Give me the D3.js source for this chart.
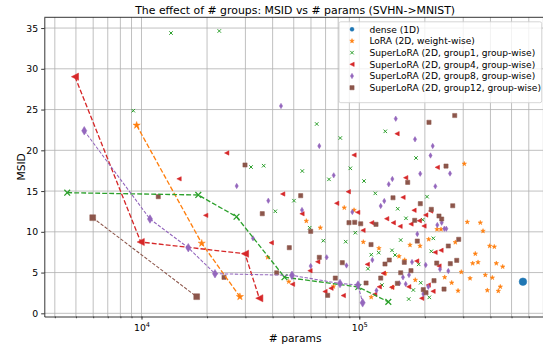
<!DOCTYPE html>
<html>
<head>
<meta charset="utf-8">
<script src="https://cdn.jsdelivr.net/npm/d3@7"></script>
<style>
  body { margin: 0; background: #fff; }
  svg { display: block; }
  text { font-family: "DejaVu Sans", sans-serif; fill: #000; }
</style>
</head>
<body>
<svg id="chart" width="543" height="348"></svg>
<script>
// ---- data: [number of params, MSID] ----
const densePoints = [[564000, 3.88]];

const loraPoints = [
  [85300, 12.96], [94600, 12.67], [57100, 11.33], [66200, 10.50], [104300, 8.75],
  [123100, 7.98], [37970, 6.87], [131600, 4.91], [47460, 3.88], [76100, 3.29],
  [113400, 1.98], [303400, 18.34], [313100, 11.20], [359400, 11.12], [227400, 10.31],
  [237200, 10.31], [369800, 10.10], [170900, 8.38], [190000, 8.26], [208300, 9.08],
  [275900, 8.71], [396900, 8.26], [416700, 8.17], [152200, 6.99], [340800, 7.31],
  [161600, 6.54], [331600, 6.13], [350800, 6.26], [425600, 6.13], [455400, 5.72],
  [293900, 5.07], [246700, 4.42], [322400, 4.29], [378800, 4.70], [408000, 4.37],
  [142300, 3.19], [180700, 4.09], [265600, 3.75], [284000, 2.77], [387000, 2.82],
  [444000, 3.26], [434700, 2.74]
];
const loraFront = [[9500, 23.07], [18900, 8.59], [28300, 2.04]];

const group1Points = [
  [9170, 24.86], [13660, 34.39], [22760, 34.64], [63740, 23.23], [81800, 21.51],
  [31830, 17.95], [36390, 18.11], [54730, 17.46], [90930, 17.79], [72580, 16.44],
  [105100, 16.23], [118400, 14.72], [50130, 13.82], [41150, 12.52], [59180, 10.50],
  [95850, 9.89], [68350, 8.91], [86610, 8.79], [122800, 7.44], [113500, 7.19],
  [109600, 5.47], [127100, 3.47], [131600, 22.33], [182100, 19.06], [204600, 14.31],
  [150100, 12.83], [163800, 11.66], [195500, 11.48], [154900, 8.99], [218700, 9.20],
  [141300, 7.73], [145900, 7.15], [214100, 7.61], [187400, 6.01], [191400, 3.75],
  [177000, 2.86], [168600, 1.75], [209600, 1.96]
];
const group1Front = [[4560, 14.80], [18230, 14.52], [27310, 11.85], [45350, 4.43], [98950, 3.23], [135900, 1.41]];

const group4Points = [
  [24620, 19.67], [14870, 16.50], [19710, 12.02], [94560, 19.42], [44490, 14.64],
  [89020, 14.92], [78740, 13.50], [98330, 12.39], [54560, 12.22], [133600, 11.61],
  [114000, 11.12], [104000, 10.18], [39450, 8.66], [64420, 6.33], [108800, 6.01],
  [59360, 5.23], [128900, 4.91], [49350, 3.57], [74140, 3.08], [140800, 3.19],
  [69580, 2.67], [84440, 2.18], [117700, 2.34], [123500, 3.25], [149000, 22.04],
  [228100, 17.91], [163300, 16.64], [158700, 14.23], [178300, 12.64], [212700, 12.55],
  [201800, 12.06], [188600, 11.36], [143200, 11.12], [153800, 10.67], [172700, 10.96],
  [198200, 10.71], [237200, 7.73], [222700, 7.48], [183400, 6.42], [232200, 5.80],
  [168600, 3.26], [207400, 3.47], [218000, 2.70], [193400, 1.84]
];
const group4Front = [[4950, 29.03], [9920, 8.75], [29870, 7.31], [34740, 1.85]];

const group8Points = [
  [27360, 15.62], [43700, 25.44], [65510, 20.53], [76300, 16.93], [136500, 15.83],
  [130200, 13.78], [125400, 13.17], [38210, 13.82], [92880, 12.43], [54560, 12.67],
  [32500, 9.20], [70840, 6.87], [114800, 6.54], [87340, 5.87], [59820, 5.80],
  [119900, 2.80], [147000, 23.88], [180200, 21.35], [217300, 20.53], [212300, 19.36],
  [260900, 17.15], [190400, 17.13], [141800, 16.48], [223400, 15.58], [228100, 10.83],
  [238900, 11.12], [245700, 10.38], [250900, 10.38], [184600, 9.73], [174600, 6.29],
  [201800, 5.93], [234700, 5.40], [256200, 5.19], [169100, 4.70], [158700, 4.42],
  [163300, 3.60], [152700, 3.68], [207400, 3.26], [196700, 2.37]
];
const group8Front = [[5460, 22.40], [10940, 11.57], [16400, 8.05], [21750, 4.86], [49090, 4.66], [81540, 3.66], [98630, 3.47], [103600, 1.29]];

const group12Points = [
  [29870, 18.20], [11940, 14.31], [23930, 4.42], [53810, 14.43], [35850, 12.22],
  [89680, 11.12], [95260, 11.17], [101500, 10.99], [119300, 10.92], [59820, 10.06],
  [113200, 8.44], [47710, 8.05], [65510, 6.87], [131200, 6.05], [83550, 6.21],
  [41760, 4.98], [125400, 4.33], [77590, 4.33], [107400, 3.72], [71590, 2.21],
  [274200, 24.27], [208900, 23.44], [250100, 18.07], [166800, 16.07], [142800, 14.18],
  [190600, 13.45], [268500, 13.20], [214100, 12.76], [232200, 11.94], [238900, 11.57],
  [179600, 11.41], [184600, 8.87], [256200, 8.26], [286000, 9.08], [137300, 6.54],
  [160900, 6.26], [226700, 6.17], [261700, 6.09], [280100, 6.50], [172700, 5.23],
  [154900, 4.98], [149500, 3.68], [220300, 4.00], [244900, 2.98], [196700, 2.90],
  [202400, 2.53]
];
const group12Front = [[5970, 11.73], [17920, 2.04]];

const seriesLabels = [
  "dense (1D)",
  "LoRA (2D, weight-wise)",
  "SuperLoRA (2D, group1, group-wise)",
  "SuperLoRA (2D, group4, group-wise)",
  "SuperLoRA (2D, group8, group-wise)",
  "SuperLoRA (2D, group12, group-wise)"
];
const yTickValues = [0, 5, 10, 15, 20, 25, 30, 35];
const xMajorTicks = [1e4, 1e5];
const titleText = "The effect of # groups: MSID vs # params (SVHN->MNIST)";
const xLabelText = "# params";
const yLabelText = "MSID";

// ---- styling ----
const series = [
  { label: seriesLabels[0], color: "#1f77b4", shape: "circle",  points: densePoints,   front: null,         size: 7.6, legendSize: 4 },
  { label: seriesLabels[1], color: "#ff7f0e", shape: "star",    points: loraPoints,    front: loraFront,    size: 4.8, frontSize: 7.6, legendSize: 4.8, lw: 1.33, dash: "4.9,2.1" },
  { label: seriesLabels[2], color: "#2ca02c", shape: "x",       points: group1Points,  front: group1Front,  size: 3.5, frontSize: 5.8, legendSize: 3.5, lw: 1.33, dash: "4.9,2.1" },
  { label: seriesLabels[3], color: "#d62728", shape: "triLeft", points: group4Points,  front: group4Front,  size: 4.4, frontSize: 7.2, legendSize: 4.4, lw: 1.33, dash: "4.9,2.1" },
  { label: seriesLabels[4], color: "#9467bd", shape: "diamond", points: group8Points,  front: group8Front,  size: 5.4, frontSize: 8.6, legendSize: 5.4, lw: 1.05, dash: "3.4,1.6" },
  { label: seriesLabels[5], color: "#8c564b", shape: "square",  points: group12Points, front: group12Front, size: 4.2, frontSize: 5.8, legendSize: 4.2, lw: 1.05, dash: "3.4,1.6" }
];

const W = 543, H = 348;
const plot = { left: 44.3, right: 546, top: 17.3, bottom: 316.5 };
const tickFs = 9.3, labelFs = 10.7, titleFs = 10.9, legendFs = 9.1;

const svg = d3.select("#chart");
svg.append("rect").attr("width", W).attr("height", H).attr("fill", "#fff");

const x = d3.scaleLog().domain([3579, 719700]).range([plot.left, plot.right]);
const y = d3.scaleLinear().domain([-0.39, 36.32]).range([plot.bottom, plot.top]);

svg.append("defs").append("clipPath").attr("id", "plotclip")
  .append("rect")
  .attr("x", plot.left).attr("y", plot.top)
  .attr("width", plot.right - plot.left).attr("height", plot.bottom - plot.top);

function markerPath(shape, s) {
  const h = s / 2;
  switch (shape) {
    case "circle": return d3.symbol(d3.symbolCircle, Math.PI * h * h)();
    case "square": return `M${-h},${-h}H${h}V${h}H${-h}Z`;
    case "triLeft": return `M${-h},0L${h},${-h}L${h},${h}Z`;
    case "diamond": { const w = 0.6 * h; return `M0,${-h}L${w},0L0,${h}L${-w},0Z`; }
    case "star": {
      const pts = [];
      for (let k = 0; k < 10; k++) {
        const a = -Math.PI / 2 + k * Math.PI / 5;
        const r = k % 2 ? h * 0.382 : h;
        pts.push([r * Math.cos(a), r * Math.sin(a)]);
      }
      return "M" + pts.map(p => p[0].toFixed(2) + "," + p[1].toFixed(2)).join("L") + "Z";
    }
    case "x": return `M${-h},${-h}L${h},${h}M${-h},${h}L${h},${-h}`;
  }
}
function styleMarker(sel, d, big) {
  if (d.shape === "x") {
    sel.attr("fill", "none").attr("stroke", d.color).attr("stroke-width", big ? 1.3 : 1.0);
  } else {
    sel.attr("fill", d.color).attr("stroke", d.color).attr("stroke-width", 0.5);
  }
}

// ---- grid (major and minor) ----
const grid = svg.append("g").attr("stroke", "#b0b0b0").attr("stroke-width", 0.8);
grid.selectAll("line.vx").data(x.ticks()).join("line")
  .attr("x1", d => x(d)).attr("x2", d => x(d))
  .attr("y1", plot.top).attr("y2", plot.bottom);
grid.selectAll("line.hy").data(yTickValues).join("line")
  .attr("x1", plot.left).attr("x2", plot.right)
  .attr("y1", d => y(d)).attr("y2", d => y(d));

// ---- scatter markers ----
const marks = svg.append("g").attr("clip-path", "url(#plotclip)");
series.forEach(s => {
  marks.append("g").selectAll("path").data(s.points).join("path")
    .attr("transform", p => `translate(${x(p[0])},${y(p[1])})`)
    .attr("d", markerPath(s.shape, s.size))
    .call(sel => styleMarker(sel, s, false));
});

// ---- dashed front lines with their markers ----
const line = d3.line().x(p => x(p[0])).y(p => y(p[1]));
series.filter(s => s.front).forEach(s => {
  marks.append("path").datum(s.front)
    .attr("d", line)
    .attr("fill", "none").attr("stroke", s.color)
    .attr("stroke-width", s.lw).attr("stroke-dasharray", s.dash);
  marks.append("g").selectAll("path").data(s.front).join("path")
    .attr("transform", p => `translate(${x(p[0])},${y(p[1])})`)
    .attr("d", markerPath(s.shape, s.frontSize))
    .call(sel => styleMarker(sel, s, true));
});

// ---- axes ----
const xMinorTicks = x.ticks().filter(v => !xMajorTicks.includes(v));
const xAxisMinor = svg.append("g").attr("transform", `translate(0,${plot.bottom})`)
  .call(d3.axisBottom(x).tickValues(xMinorTicks).tickFormat("").tickSize(1.8).tickSizeOuter(0));
xAxisMinor.select(".domain").remove();
xAxisMinor.selectAll("line").attr("stroke-width", 0.6);

const xAxis = svg.append("g").attr("transform", `translate(0,${plot.bottom})`)
  .call(d3.axisBottom(x).tickValues(xMajorTicks).tickFormat("").tickSize(3.1).tickSizeOuter(0));
xAxis.select(".domain").attr("stroke-width", 0.8);
xAxis.selectAll(".tick line").attr("stroke-width", 0.8);
xAxis.selectAll(".tick").each(function (d) {
  const t = d3.select(this).append("text")
    .attr("y", 14.2).attr("text-anchor", "middle")
    .style("font-size", tickFs + "px").attr("fill", "#000");
  t.append("tspan").text("10");
  t.append("tspan").attr("dy", -3.9).style("font-size", "6.6px").text(Math.round(Math.log10(d)));
});

const yAxis = svg.append("g").attr("transform", `translate(${plot.left},0)`)
  .call(d3.axisLeft(y).tickValues(yTickValues).tickFormat(d3.format("d")).tickSize(3.1).tickPadding(3.1).tickSizeOuter(0));
yAxis.select(".domain").attr("stroke-width", 0.8);
yAxis.selectAll(".tick line").attr("stroke-width", 0.8);
yAxis.selectAll(".tick text").style("font-size", tickFs + "px").style("font-family", "DejaVu Sans").attr("fill", "#000");

// top and right spines
svg.append("line").attr("x1", plot.left).attr("x2", plot.right)
  .attr("y1", plot.top).attr("y2", plot.top).attr("stroke", "#000").attr("stroke-width", 0.8);
svg.append("line").attr("x1", plot.right).attr("x2", plot.right)
  .attr("y1", plot.top).attr("y2", plot.bottom).attr("stroke", "#000").attr("stroke-width", 0.8);

// ---- labels ----
const cx = (plot.left + plot.right) / 2;
svg.append("text").attr("x", cx).attr("y", 14).attr("text-anchor", "middle")
  .style("font-size", titleFs + "px").text(titleText);
svg.append("text").attr("x", cx).attr("y", 341.5).attr("text-anchor", "middle")
  .style("font-size", labelFs + "px").text(xLabelText);
svg.append("text").attr("transform", `translate(24.5,${(plot.top + plot.bottom) / 2}) rotate(-90)`)
  .attr("text-anchor", "middle").style("font-size", labelFs + "px").text(yLabelText);

// ---- legend ----
const legend = svg.append("g");
legend.append("rect")
  .attr("x", 339).attr("y", 21.8).attr("width", 202.7).attr("height", 80.9)
  .attr("rx", 1.8).attr("fill", "#fff").attr("fill-opacity", 0.8)
  .attr("stroke", "#cccccc").attr("stroke-width", 0.8);
const rowY = i => 29.3 + i * 11.68;
series.forEach((s, i) => {
  legend.append("path")
    .attr("transform", `translate(352,${rowY(i)})`)
    .attr("d", markerPath(s.shape, s.legendSize))
    .call(sel => styleMarker(sel, s, false));
  legend.append("text")
    .attr("x", 369.4).attr("y", rowY(i)).attr("dy", "0.36em")
    .style("font-size", legendFs + "px").text(s.label);
});
</script>
</body>
</html>
